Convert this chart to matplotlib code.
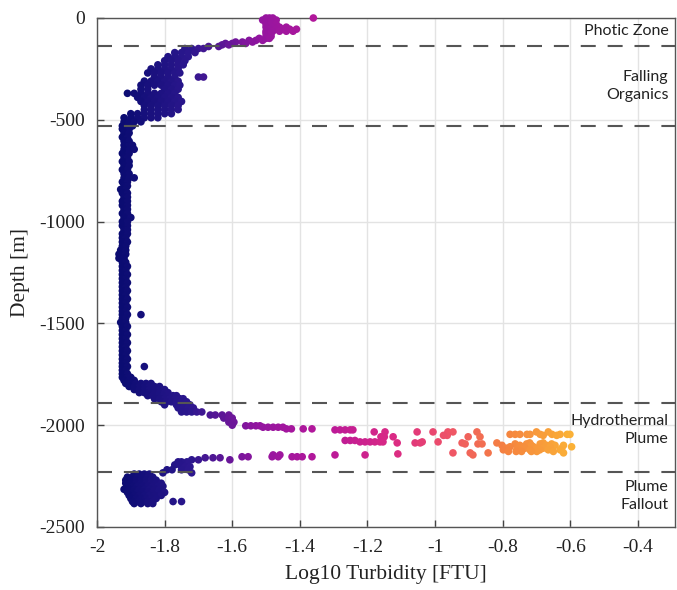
import matplotlib
matplotlib.use("Agg")
import matplotlib.pyplot as plt
from matplotlib.colors import LinearSegmentedColormap

# values
# each row: (depth [m], [log10 turbidity values at that depth])
photic_rows = [
    (0, [-1.50, -1.49, -1.48, -1.36]),
    (-10, [-1.51, -1.495, -1.48, -1.47]),
    (-20, [-1.50, -1.485]),
    (-30, [-1.50, -1.485, -1.47]),
    (-45, [-1.50, -1.48, -1.46, -1.44]),
    (-55, [-1.49, -1.47, -1.45, -1.43, -1.41]),
    (-65, [-1.50, -1.48, -1.46, -1.44, -1.42]),
    (-75, [-1.50, -1.485]),
    (-90, [-1.50, -1.485]),
    (-100, [-1.52, -1.50, -1.49]),
    (-110, [-1.55, -1.53, -1.51]),
    (-118, [-1.59, -1.57, -1.54]),
    (-125, [-1.62, -1.60, -1.56]),
    (-132, [-1.63, -1.61]),
    (-140, [-1.67, -1.64]),
]

organics_rows = [
    (-150, [-1.74, -1.72, -1.70, -1.685]),
    (-170, [-1.77, -1.75, -1.73, -1.71]),
    (-190, [-1.79, -1.77, -1.75, -1.73]),
    (-210, [-1.80, -1.78, -1.76, -1.74]),
    (-230, [-1.82, -1.80, -1.78, -1.76, -1.745]),
    (-250, [-1.84, -1.82, -1.80, -1.78, -1.76]),
    (-270, [-1.85, -1.83, -1.81, -1.79, -1.77, -1.755]),
    (-290, [-1.83, -1.81, -1.79, -1.77, -1.70, -1.685]),
    (-310, [-1.86, -1.84, -1.82, -1.80, -1.78, -1.76]),
    (-330, [-1.87, -1.85, -1.83, -1.81, -1.79, -1.77, -1.755]),
    (-350, [-1.87, -1.85, -1.80, -1.78, -1.76]),
    (-370, [-1.91, -1.89, -1.87, -1.85, -1.83, -1.81, -1.79, -1.77]),
    (-390, [-1.88, -1.86, -1.84, -1.82, -1.80, -1.78, -1.76]),
    (-410, [-1.87, -1.85, -1.83, -1.81, -1.79, -1.77, -1.75]),
    (-430, [-1.86, -1.84, -1.82, -1.80, -1.78, -1.76]),
    (-450, [-1.86, -1.84, -1.82, -1.80, -1.78, -1.76]),
    (-470, [-1.90, -1.88, -1.86, -1.84, -1.82, -1.80, -1.78]),
    (-490, [-1.92, -1.90, -1.88, -1.86, -1.84, -1.82]),
    (-510, [-1.92, -1.905, -1.89, -1.87]),
    (-530, [-1.925, -1.91, -1.895]),
]

column_rows = [
    (-545, [-1.925, -1.905]), (-565, [-1.92, -1.905]), (-585, [-1.925, -1.91]),
    (-605, [-1.92, -1.905]), (-625, [-1.92, -1.905, -1.895]), (-645, [-1.92, -1.905, -1.89]),
    (-665, [-1.925, -1.905]), (-685, [-1.92, -1.91]), (-705, [-1.925, -1.905]),
    (-725, [-1.92, -1.905]), (-745, [-1.925, -1.91]), (-765, [-1.92, -1.905]),
    (-785, [-1.92, -1.905, -1.89]), (-805, [-1.925, -1.91]), (-825, [-1.92, -1.91]),
    (-842, [-1.93, -1.915]), (-860, [-1.925, -1.91]), (-880, [-1.92, -1.91]),
    (-900, [-1.925, -1.91]), (-920, [-1.925, -1.91]), (-940, [-1.92, -1.91]),
    (-960, [-1.925, -1.91]), (-980, [-1.92, -1.90]), (-1000, [-1.925, -1.91]),
    (-1020, [-1.925, -1.91]), (-1040, [-1.92, -1.91]), (-1060, [-1.925, -1.91]),
    (-1080, [-1.925, -1.915]), (-1100, [-1.925, -1.91]), (-1120, [-1.925, -1.915]),
    (-1140, [-1.93, -1.915]), (-1160, [-1.935, -1.915]), (-1180, [-1.935, -1.92]),
    (-1200, [-1.925, -1.915]), (-1220, [-1.925, -1.91]), (-1240, [-1.925, -1.915]),
    (-1260, [-1.925, -1.91]), (-1280, [-1.925, -1.915]), (-1300, [-1.925, -1.91]),
    (-1320, [-1.925, -1.915]), (-1340, [-1.925, -1.91]), (-1360, [-1.925, -1.915]),
    (-1380, [-1.925, -1.91]), (-1400, [-1.925, -1.915]), (-1420, [-1.925, -1.91]),
    (-1440, [-1.925, -1.915]), (-1457, [-1.925, -1.91, -1.87]), (-1475, [-1.925, -1.915]),
    (-1495, [-1.93, -1.915]), (-1515, [-1.925, -1.91]), (-1535, [-1.925, -1.915]),
    (-1555, [-1.925, -1.91]), (-1575, [-1.925, -1.915]), (-1595, [-1.925, -1.91]),
    (-1615, [-1.925, -1.915]), (-1635, [-1.925, -1.91]), (-1655, [-1.925, -1.915]),
    (-1675, [-1.925, -1.91]), (-1695, [-1.925, -1.915]), (-1712, [-1.925, -1.91, -1.86]),
    (-1730, [-1.925, -1.915]), (-1748, [-1.925, -1.91]),
]

rise_rows = [
    (-1765, [-1.925, -1.91, -1.90]),
    (-1780, [-1.92, -1.905, -1.89]),
    (-1795, [-1.915, -1.90, -1.885, -1.87, -1.855, -1.84]),
    (-1810, [-1.905, -1.89, -1.875, -1.86, -1.845, -1.83, -1.815]),
    (-1825, [-1.89, -1.875, -1.86, -1.845, -1.83, -1.815, -1.80]),
    (-1840, [-1.875, -1.86, -1.845, -1.83, -1.815, -1.80, -1.79]),
    (-1855, [-1.85, -1.835, -1.82, -1.805, -1.79, -1.775, -1.765]),
    (-1870, [-1.83, -1.815, -1.80, -1.785, -1.77, -1.755, -1.745]),
    (-1885, [-1.81, -1.795, -1.78, -1.765, -1.75, -1.735]),
    (-1900, [-1.80, -1.765, -1.75, -1.735, -1.725]),
    (-1915, [-1.76, -1.745, -1.73, -1.715]),
    (-1935, [-1.75, -1.735, -1.72, -1.705, -1.69]),
    (-1950, [-1.665, -1.65, -1.63, -1.61]),
    (-1965, [-1.625, -1.61, -1.60]),
    (-1985, [-1.61, -1.595]),
    (-2000, [-1.60]),
]

plume_rows = [
    (-2003, [-1.56, -1.545, -1.53, -1.518]),
    (-2010, [-1.509, -1.494, -1.479, -1.464, -1.45]),
    (-2018, [-1.44, -1.425, -1.39, -1.364]),
    (-2023, [-1.296, -1.281, -1.266, -1.251, -1.243]),
    (-2033, [-1.18, -1.148, -1.053, -1.006, -0.962, -0.947, -0.876, -0.70, -0.665]),
    (-2045, [-0.778, -0.763, -0.749, -0.728, -0.719, -0.689, -0.654, -0.630, -0.609, -0.601]),
    (-2050, [-0.964, -0.975, -0.68, -0.64]),
    (-2057, [-1.16, -1.15, -1.124, -0.902, -0.867]),
    (-2075, [-1.266, -1.251, -1.237]),
    (-2082, [-1.222, -1.207, -1.192, -1.178, -1.163, -1.154, -1.038, -0.991]),
    (-2087, [-1.112, -1.059, -1.044, -0.920, -0.817, -0.72, -0.68]),
    (-2092, [-0.911, -0.873, -0.861, -0.763, -0.729, -0.689, -0.655]),
    (-2099, [-0.802, -0.749, -0.645, -0.670, -0.715, -0.62]),
    (-2106, [-0.778, -0.709, -0.596, -0.74, -0.66]),
    (-2113, [-0.734, -0.660, -0.680, -0.79, -0.70, -0.625]),
    (-2121, [-0.798, -0.758, -0.719, -0.630, -0.69, -0.665]),
    (-2129, [-0.783, -0.744, -0.699, -0.650, -0.76, -0.715]),
    (-2136, [-0.843, -0.620, -0.947, -0.896]),
    (-2141, [-1.11]),
    (-2146, [-1.479, -1.459, -1.296, -1.207, -0.888]),
    (-2155, [-1.571, -1.553, -1.482, -1.464, -1.423, -1.408, -1.393, -1.364]),
]

fallback_rows = [
    (-2160, [-1.636, -1.657, -1.68]),
    (-2170, [-1.607, -1.70, -1.72]),
    (-2180, [-1.734, -1.75, -1.76]),
    (-2195, [-1.77, -1.755]),
    (-2204, [-1.74, -1.725]),
    (-2219, [-1.793, -1.778, -1.75, -1.73]),
    (-2234, [-1.805, -1.72]),
]

fallout_rows = [
    (-2240, [-1.89, -1.875, -1.86, -1.845]),
    (-2255, [-1.91, -1.895, -1.88, -1.865, -1.85, -1.835]),
    (-2270, [-1.915, -1.90, -1.885, -1.87, -1.855, -1.84, -1.825]),
    (-2285, [-1.915, -1.90, -1.885, -1.87, -1.855, -1.84, -1.825, -1.81]),
    (-2300, [-1.91, -1.895, -1.88, -1.865, -1.85, -1.835, -1.82, -1.805]),
    (-2315, [-1.92, -1.905, -1.89, -1.875, -1.86, -1.845, -1.83, -1.815]),
    (-2330, [-1.91, -1.895, -1.88, -1.865, -1.85, -1.835, -1.82, -1.80]),
    (-2345, [-1.905, -1.89, -1.875, -1.86, -1.845, -1.83, -1.81]),
    (-2360, [-1.90, -1.885, -1.87, -1.855, -1.84, -1.825]),
    (-2375, [-1.895, -1.88, -1.865, -1.85, -1.835, -1.775, -1.75]),
    (-2385, [-1.89, -1.87, -1.85, -1.835]),
]

zone_depths = [-140, -530, -1890, -2232]
zone_labels = ["Photic Zone", "Falling\nOrganics", "Hydrothermal\nPlume", "Plume\nFallout"]
label_depths = [-65, -335, -2022, -2348]

# flatten the rows into point lists
depth = []
turb = []
for rows in [photic_rows, organics_rows, column_rows, rise_rows,
             plume_rows, fallback_rows, fallout_rows]:
    for d, xs in rows:
        for x in xs:
            depth.append(d)
            turb.append(x)

# navy -> magenta -> orange, close to the colours in the reference
cmap = LinearSegmentedColormap.from_list("turb", [
    (0.0, "#0b0c72"), (0.15, "#2c178e"), (0.30, "#9315a0"), (0.45, "#b8189a"),
    (0.60, "#db2a84"), (0.72, "#ee5368"), (0.85, "#f5843f"), (1.0, "#fbb536")])

fig = plt.figure(figsize=(6.77, 5.90), dpi=100)
ax = fig.add_axes([0.1433, 0.1068, 0.8538, 0.8627])

ax.scatter(turb, depth, c=turb, cmap=cmap, vmin=-1.93, vmax=-0.58,
           s=30, linewidths=0, clip_on=False, zorder=3)

# zone boundaries
for zd in zone_depths:
    ax.axhline(zd, color="#555555", lw=1.5, dashes=(7.2, 5.7), zorder=4)

for lab, ld in zip(zone_labels, label_depths):
    ax.text(-0.31, ld, lab, ha="right", va="center", fontsize=11.5,
            family="Lato", color="#222222", linespacing=1.35, zorder=5)

ax.set_xlim(-2, -0.29)
ax.set_ylim(-2500, 0)
ax.set_xticks([-2, -1.8, -1.6, -1.4, -1.2, -1, -0.8, -0.6, -0.4])
ax.set_xticklabels(["-2", "-1.8", "-1.6", "-1.4", "-1.2", "-1", "-0.8", "-0.6", "-0.4"])
ax.set_yticks([0, -500, -1000, -1500, -2000, -2500])
ax.set_yticklabels(["0", "-500", "-1000", "-1500", "-2000", "-2500"])
ax.grid(True, color="#e3e3e3", lw=1.0, zorder=0)
ax.set_axisbelow(True)
ax.tick_params(direction="in", length=5, width=1, color="#444444",
               labelsize=14, pad=9, labelcolor="#222222")
for lbl in ax.get_xticklabels() + ax.get_yticklabels():
    lbl.set_family("Liberation Serif")
for sp in ax.spines.values():
    sp.set_color("#555555")
    sp.set_linewidth(1.0)

ax.set_xlabel("Log10 Turbidity [FTU]", family="Liberation Serif", fontsize=15.5,
              color="#222222", labelpad=6)
ax.set_ylabel("Depth [m]", family="Liberation Serif", fontsize=15.5,
              color="#222222", labelpad=6)

fig.savefig("out.png", dpi=100)
